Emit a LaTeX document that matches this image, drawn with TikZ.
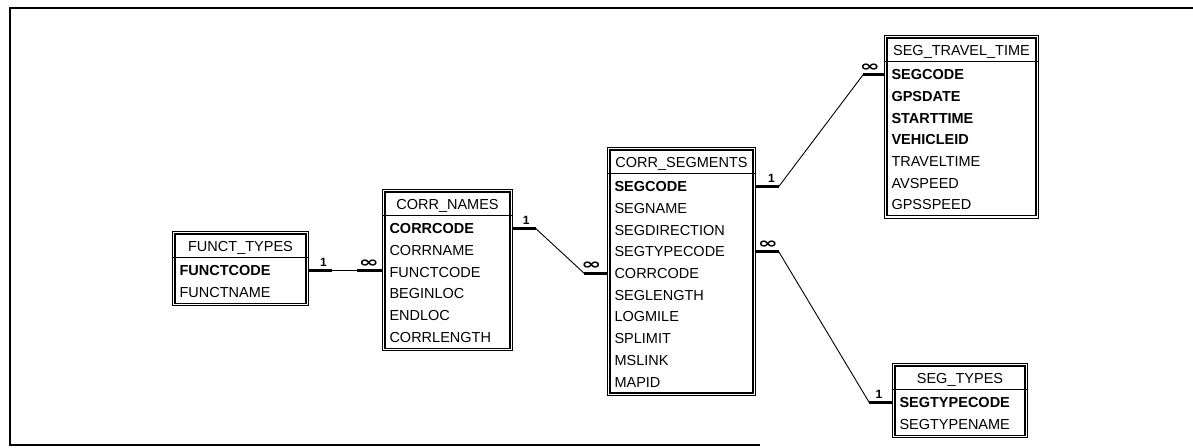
\documentclass[tikz,border=0pt]{standalone}
\usepackage{fontspec}
\setmainfont{Liberation Sans}
\newfontfamily\symfont{DejaVu Sans}
\usetikzlibrary{positioning,fit,calc}
\newcommand\manymark{\scalebox{1.6}[1]{∞}}

\begin{document}
\begin{tikzpicture}[
  x=1pt, y=-1pt,
  font=\fontsize{14.5}{16}\selectfont,
  node distance=0pt,
  tblhead/.style={
    rectangle, anchor=north west, align=center, inner xsep=4pt,
    inner ysep=0pt, minimum height=23pt, text height=10.4pt, text depth=0pt
  },
  field/.style={
    rectangle, align=left, inner xsep=4pt, inner ysep=0pt,
    minimum height=21.3pt, text height=10.4pt, text depth=0pt
  },
  keyfield/.style={field, font=\fontsize{14.5}{16}\selectfont\bfseries},
  tblframe/.style={
    rectangle, draw=black, line width=1.1pt, double, double distance=1.3pt,
    inner sep=1.5pt
  },
  tblrule/.style={line width=1.3pt, draw=black},
  rel/.style={line width=0.9pt, draw=black},
  relstub/.style={line width=2.8pt, draw=black},
  card/.style={anchor=south, inner sep=1pt, yshift=1.5pt,
    font=\fontsize{12}{13}\selectfont\bfseries},
  many/.style={card, font=\symfont\fontsize{15}{16}\selectfont\bfseries, yshift=-0.5pt},
]
\useasboundingbox (0,0) rectangle (1193,447);

% page frame (open on the right)
\draw[line width=1.3pt] (1193,8) -- (10,8) -- (10,445) -- (760,445);

% FUNCT_TYPES
\begin{scope}[nodes={text width=122pt}]
\node[tblhead] (ft) at (175.3,234.3) {FUNCT\_TYPES};
\node[keyfield, below=2pt of ft] (ft-1) {FUNCTCODE};
\node[field, below=of ft-1] (ft-2) {FUNCTNAME};
\end{scope}

% CORR_NAMES
\begin{scope}[nodes={text width=116pt}]
\node[tblhead] (cn) at (385.3,192.3) {CORR\_NAMES};
\node[keyfield, below=2pt of cn] (cn-1) {CORRCODE};
\node[field, below=of cn-1] (cn-2) {CORRNAME};
\node[field, below=of cn-2] (cn-3) {FUNCTCODE};
\node[field, below=of cn-3] (cn-4) {BEGINLOC};
\node[field, below=of cn-4] (cn-5) {ENDLOC};
\node[field, below=of cn-5] (cn-6) {CORRLENGTH};
\end{scope}

% CORR_SEGMENTS
\begin{scope}[nodes={text width=134pt}]
\node[tblhead] (cs) at (610.3,150.3) {CORR\_SEGMENTS};
\node[keyfield, below=2pt of cs] (cs-1) {SEGCODE};
\node[field, below=of cs-1] (cs-2) {SEGNAME};
\node[field, below=of cs-2] (cs-3) {SEGDIRECTION};
\node[field, below=of cs-3] (cs-4) {SEGTYPECODE};
\node[field, below=of cs-4] (cs-5) {CORRCODE};
\node[field, below=of cs-5] (cs-6) {SEGLENGTH};
\node[field, below=of cs-6] (cs-7) {LOGMILE};
\node[field, below=of cs-7] (cs-8) {SPLIMIT};
\node[field, below=of cs-8] (cs-9) {MSLINK};
\node[field, below=of cs-9] (cs-10) {MAPID};
\end{scope}

% SEG_TRAVEL_TIME
\begin{scope}[nodes={text width=140pt}]
\node[tblhead] (tt) at (887.3,38.3) {SEG\_TRAVEL\_TIME};
\node[keyfield, below=2pt of tt] (tt-1) {SEGCODE};
\node[keyfield, below=of tt-1] (tt-2) {GPSDATE};
\node[keyfield, below=of tt-2] (tt-3) {STARTTIME};
\node[keyfield, below=of tt-3] (tt-4) {VEHICLEID};
\node[field, below=of tt-4] (tt-5) {TRAVELTIME};
\node[field, below=of tt-5] (tt-6) {AVSPEED};
\node[field, below=of tt-6] (tt-7) {GPSSPEED};
\end{scope}

% SEG_TYPES
\begin{scope}[nodes={text width=121pt}]
\node[tblhead] (st) at (895.3,366.3) {SEG\_TYPES};
\node[keyfield, below=2pt of st] (st-1) {SEGTYPECODE};
\node[field, below=of st-1] (st-2) {SEGTYPENAME};
\end{scope}

% table frames and header rules
\node[tblframe, fit=(ft)(ft-2)] (ftbox) {};
\node[tblframe, fit=(cn)(cn-6)] (cnbox) {};
\node[tblframe, fit=(cs)(cs-10)] (csbox) {};
\node[tblframe, fit=(tt)(tt-7)] (ttbox) {};
\node[tblframe, fit=(st)(st-2)] (stbox) {};
\draw[tblrule] (ft.south -| ftbox.west) -- (ft.south -| ftbox.east);
\draw[tblrule] (cn.south -| cnbox.west) -- (cn.south -| cnbox.east);
\draw[tblrule] (cs.south -| csbox.west) -- (cs.south -| csbox.east);
\draw[tblrule] (tt.south -| ttbox.west) -- (tt.south -| ttbox.east);
\draw[tblrule] (st.south -| stbox.west) -- (st.south -| stbox.east);

% FUNCT_TYPES -- CORR_NAMES
\coordinate (r1a) at ($(ftbox.east |- ft-1)+(24,0)$);
\coordinate (r1b) at ($(cnbox.west |- r1a)+(-26,0)$);
\draw[rel] (r1a) -- (r1b);
\draw[relstub] (ftbox.east |- ft-1) -- (r1a) node[card, pos=0.65] {1};
\draw[relstub] (r1b) -- (cnbox.west |- r1a) node[many, pos=0.45] {\manymark};

% CORR_NAMES -- CORR_SEGMENTS
\coordinate (r2a) at ($(cnbox.east |- cn-1)+(24,0)$);
\coordinate (r2b) at ($(csbox.west |- cs-5)+(-24,0)$);
\draw[rel] (r2a) -- (r2b);
\draw[relstub] (cnbox.east |- cn-1) -- (r2a) node[card, pos=0.6] {1};
\draw[relstub] (r2b) -- (csbox.west |- cs-5) node[many, pos=0.3] {\manymark};

% CORR_SEGMENTS -- SEG_TRAVEL_TIME
\coordinate (r3a) at ($(csbox.east |- cs-1)+(24,0)$);
\coordinate (r3b) at ($(ttbox.west |- tt-1)+(-22,0)$);
\draw[rel] (r3a) -- (r3b);
\draw[relstub] (csbox.east |- cs-1) -- (r3a) node[card, pos=0.7] {1};
\draw[relstub] (r3b) -- (ttbox.west |- tt-1) node[many, pos=0.3] {\manymark};

% CORR_SEGMENTS -- SEG_TYPES
\coordinate (r4a) at ($(csbox.east |- cs-4)+(24,0)$);
\coordinate (r4b) at ($(stbox.west |- st-1)+(-24,0)$);
\draw[rel] (r4a) -- (r4b);
\draw[relstub] (csbox.east |- cs-4) -- (r4a) node[many, pos=0.55] {\manymark};
\draw[relstub] (r4b) -- (stbox.west |- st-1) node[card, pos=0.4] {1};

\end{tikzpicture}
\end{document}
